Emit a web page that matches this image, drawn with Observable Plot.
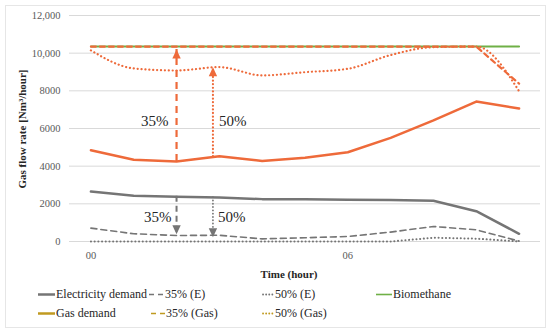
<!DOCTYPE html>
<html><head><meta charset="utf-8">
<script src="https://cdn.jsdelivr.net/npm/d3@7"></script>
<script src="https://cdn.jsdelivr.net/npm/@observablehq/plot@0.6"></script>
<style>
body{margin:0;background:#fff;}
#wrap{position:relative;width:550px;height:331px;font-family:"Liberation Serif","Times New Roman","DejaVu Serif",serif;overflow:hidden;}
#frame{position:absolute;left:5px;top:5px;width:541px;height:323px;border:1px solid #e6e6e6;box-sizing:border-box;}
#chart{position:absolute;left:0;top:0;}
#chart svg, #chart svg text{font-family:"Liberation Serif","Times New Roman","DejaVu Serif",serif !important;}
.leg{position:absolute;font-size:12px;color:#262626;white-space:nowrap;display:flex;align-items:center;height:14px;line-height:14px;}
.leg svg{display:block;}
</style></head>
<body><div id="wrap"><div id="frame"></div><div id="chart"></div></div>
<script>
// ---- data ----
const hours       = [0, 1, 2, 3, 4, 5, 6, 7, 8, 9, 10];
const electricity = [2650, 2430, 2380, 2330, 2250, 2250, 2220, 2200, 2160, 1610, 410];
const elec35      = [710, 410, 320, 330, 140, 200, 265, 500, 800, 620, 20];
const elec50      = [0, 0, 0, 0, 0, 0, 0, 0, 200, 150, 0];
const gasDemand   = [4850, 4340, 4250, 4530, 4280, 4450, 4740, 5500, 6430, 7430, 7060];
const gas35       = [10350, 10350, 10350, 10350, 10350, 10350, 10350, 10350, 10350, 10350, 8380];
const gas50       = [10150, 9190, 9080, 9260, 8820, 8990, 9170, 9900, 10320, 10350, 7980];
const biomethane  = [10350, 10350, 10350, 10350, 10350, 10350, 10350, 10350, 10350, 10350, 10350];
const xTicks      = [0, 6];
const xTickLabels = ["00", "06"];
const yTicks      = [0, 2000, 4000, 6000, 8000, 10000, 12000];
// annotations (reduction arrows)
const annX        = [2, 2.85];
const annLabels   = ["35%", "50%"];
const gasArrowFrom  = [4250, 4500];
const gasArrowTo    = [10200, 9250];
const gasLabelY     = [6400, 6400];
const elecArrowFrom = [2400, 2330];
const elecArrowTo   = [380, 230];
const elecLabelY    = [1300, 1300];
const legendLabels = ["Electricity demand", "35% (E)", "50% (E)", "Biomethane", "Gas demand", "35% (Gas)", "50% (Gas)"];

// ---- styles ----
const FONT = "Liberation Serif, Times New Roman, DejaVu Serif, serif";
const ORANGE = "#ee6a3a", GRAY = "#757575", GREEN = "#6fb046", GOLD = "#c09a20";

const rows = (ys) => hours.map((h, i) => ({x: h, y: ys[i]}));
const arrows = (from, to, ly) => annX.map((x, i) => ({x, y1: from[i], y2: to[i], ly: ly[i], label: annLabels[i]}));
const gasArr = arrows(gasArrowFrom, gasArrowTo, gasLabelY);
const elecArr = arrows(elecArrowFrom, elecArrowTo, elecLabelY);

const upHead = {draw(ctx) { ctx.moveTo(0, 0); ctx.lineTo(-4.2, 9); ctx.lineTo(4.2, 9); ctx.closePath(); }};
const downHead = {draw(ctx) { ctx.moveTo(0, 0); ctx.lineTo(-4.2, -9); ctx.lineTo(4.2, -9); ctx.closePath(); }};

const chart = Plot.plot({
  width: 550, height: 283,
  marginLeft: 69, marginRight: 10, marginTop: 15, marginBottom: 42,
  style: {fontFamily: FONT, fontSize: "10.5px", color: "#595959", background: "transparent"},
  x: {domain: [-0.5, 10.5]},
  y: {domain: [0, 12000]},
  marks: [
    Plot.gridY(yTicks, {stroke: "#d9d9d9", strokeOpacity: 1, strokeWidth: 1}),
    Plot.axisY({ticks: yTicks, tickSize: 0, tickPadding: 9, label: null, fontFamily: FONT,
      tickFormat: v => v >= 10000 ? d3.format(",")(v) : String(v)}),
    Plot.axisX({ticks: xTicks, tickSize: 0, tickPadding: 10, label: null, fontFamily: FONT,
      tickFormat: v => xTickLabels[xTicks.indexOf(v)]}),
    Plot.line(rows(biomethane), {x: "x", y: "y", stroke: GREEN, strokeWidth: 2}),
    Plot.line(rows(gas35), {x: "x", y: "y", stroke: ORANGE, strokeWidth: 2.2, strokeDasharray: "5,4"}),
    Plot.line(rows(gas50), {x: "x", y: "y", stroke: ORANGE, strokeWidth: 2.2, strokeDasharray: "0.1,3.8", strokeLinecap: "round", curve: "monotone-x"}),
    Plot.line(rows(gasDemand), {x: "x", y: "y", stroke: ORANGE, strokeWidth: 2.5}),
    Plot.line(rows(elec35), {x: "x", y: "y", stroke: GRAY, strokeWidth: 1.6, strokeDasharray: "6,4"}),
    Plot.line(rows(elec50), {x: "x", y: "y", stroke: GRAY, strokeWidth: 2, strokeDasharray: "0.1,3.6", strokeLinecap: "round"}),
    Plot.line(rows(electricity), {x: "x", y: "y", stroke: GRAY, strokeWidth: 2.5}),
    // gas arrows
    Plot.ruleX([gasArr[0]], {x: "x", y1: "y1", y2: "y2", stroke: ORANGE, strokeWidth: 2.2, strokeDasharray: "7,5"}),
    Plot.ruleX([gasArr[1]], {x: "x", y1: "y1", y2: "y2", stroke: ORANGE, strokeWidth: 2.2, strokeDasharray: "0.1,3.5", strokeLinecap: "round"}),
    Plot.dot(gasArr, {x: "x", y: "y2", symbol: upHead, r: 4, fill: ORANGE, stroke: null}),
    Plot.text([gasArr[0]], {x: "x", y: "ly", text: "label", dx: -8, textAnchor: "end", fontSize: 15, fontFamily: FONT, fill: "#262626"}),
    Plot.text([gasArr[1]], {x: "x", y: "ly", text: "label", dx: 6, textAnchor: "start", fontSize: 15, fontFamily: FONT, fill: "#262626"}),
    // electricity arrows
    Plot.ruleX([elecArr[0]], {x: "x", y1: "y1", y2: "y2", stroke: GRAY, strokeWidth: 2, strokeDasharray: "6,4"}),
    Plot.ruleX([elecArr[1]], {x: "x", y1: "y1", y2: "y2", stroke: GRAY, strokeWidth: 1.8, strokeDasharray: "0.1,3.2", strokeLinecap: "round"}),
    Plot.dot(elecArr, {x: "x", y: "y2", symbol: downHead, r: 4, fill: GRAY, stroke: null}),
    Plot.text([elecArr[0]], {x: "x", y: "ly", text: "label", dx: -5, textAnchor: "end", fontSize: 15, fontFamily: FONT, fill: "#262626"}),
    Plot.text([elecArr[1]], {x: "x", y: "ly", text: "label", dx: 5, textAnchor: "start", fontSize: 15, fontFamily: FONT, fill: "#262626"})
  ]
});

// axis titles
const svg = d3.select(chart);
svg.append("text").attr("x", 289).attr("y", 278).attr("text-anchor", "middle")
  .attr("font-weight", "bold").attr("font-size", 11).attr("fill", "#262626").text("Time (hour)");
svg.append("text").attr("transform", "rotate(-90)").attr("x", -129).attr("y", 25.5)
  .attr("text-anchor", "middle").attr("font-weight", "bold").attr("font-size", 11)
  .attr("fill", "#262626").text("Gas flow rate [Nm³/hour]");
document.getElementById("chart").appendChild(chart);

// legend (below the svg)
const wrap = document.getElementById("wrap");
const legendStyle = [
  {color: GRAY, dash: null, w: 18, sw: 2.5},
  {color: GRAY, dash: "5,4", w: 16, sw: 1.6},
  {color: GRAY, dash: "0.1,3", w: 12, sw: 1.8, cap: "round"},
  {color: GREEN, dash: null, w: 17, sw: 1.6},
  {color: GOLD, dash: null, w: 18, sw: 2.5},
  {color: GOLD, dash: "5,4", w: 15, sw: 1.6},
  {color: GOLD, dash: "0.1,3", w: 12, sw: 1.8, cap: "round"}
];
const legendPos = [[37, 287], [148, 287], [262, 287], [375, 287], [37, 306], [150, 306], [262, 306]];
legendLabels.forEach((lab, i) => {
  const st = legendStyle[i];
  const div = document.createElement("div");
  div.className = "leg";
  div.style.left = legendPos[i][0] + "px";
  div.style.top = legendPos[i][1] + "px";
  div.innerHTML = `<svg width="${st.w + 1}" height="14"><line x1="1" x2="${st.w}" y1="7.5" y2="7.5" stroke="${st.color}" stroke-width="${st.sw}" ${st.dash ? `stroke-dasharray="${st.dash}"` : ""} ${st.cap ? `stroke-linecap="${st.cap}"` : ""}/></svg><span>${lab}</span>`;
  wrap.appendChild(div);
});
</script>
</body></html>
